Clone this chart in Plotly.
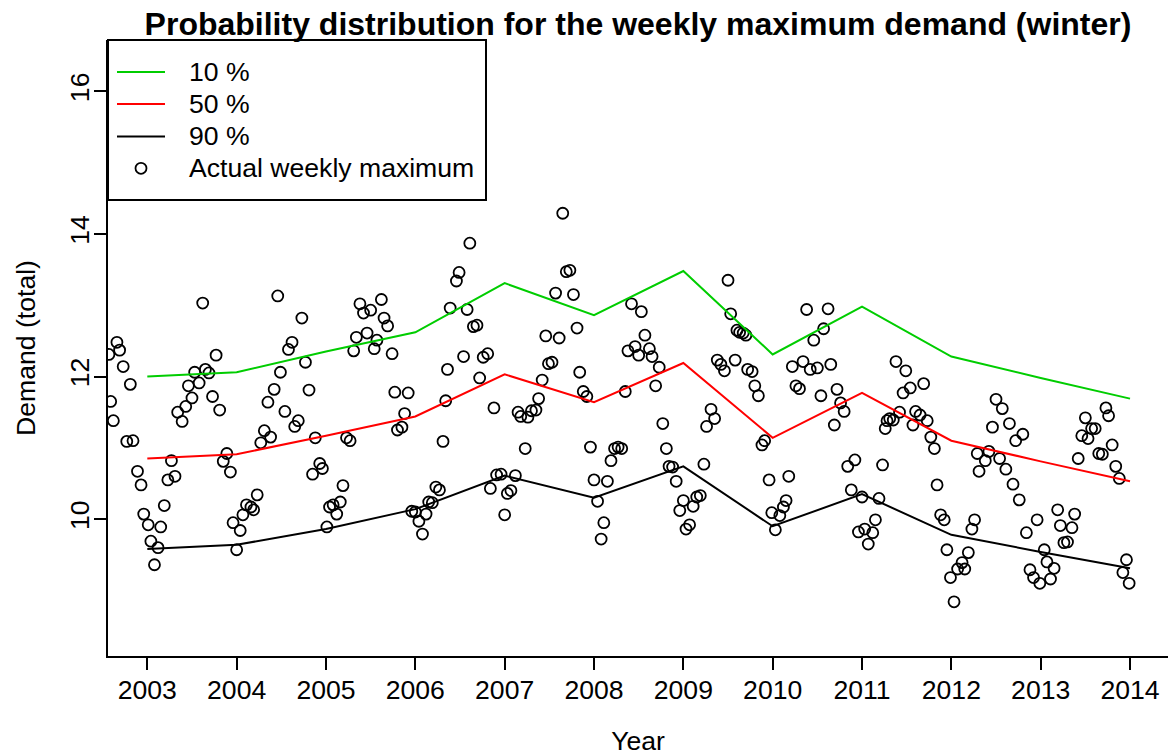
import plotly.graph_objects as go

# Forecast quantiles of the weekly maximum demand, one value per winter
years = list(range(2003, 2015))
q10 = [12.00, 12.06, 12.35, 12.62, 13.31, 12.86, 13.48, 12.31, 12.98, 12.28, 11.98, 11.69]
q50 = [10.85, 10.91, 11.17, 11.44, 12.03, 11.64, 12.19, 11.14, 11.77, 11.10, 10.81, 10.53]
q90 = [9.58, 9.64, 9.86, 10.14, 10.61, 10.30, 10.74, 9.90, 10.35, 9.78, 9.54, 9.31]

# Observed weekly maxima (decimal year, demand)
week_time = [
    2002.57, 2002.66, 2002.69, 2002.73, 2002.81, 2002.59, 2002.62, 2002.77, 2002.84, 2002.89,
    2002.93, 2002.96, 2003.01, 2003.04, 2003.12, 2003.08, 2003.15, 2003.19, 2003.23, 2003.31,
    2003.27, 2003.34, 2003.39, 2003.43, 2003.50, 2003.46, 2003.53, 2003.58, 2003.65, 2003.69,
    2003.62, 2003.77, 2003.73, 2003.81, 2003.89, 2003.85, 2003.93, 2003.96, 2004.04, 2004.00,
    2004.07, 2004.11, 2004.16, 2004.19, 2004.23, 2004.27, 2004.31, 2004.38, 2004.35, 2004.42,
    2004.49, 2004.46, 2004.54, 2004.58, 2004.62, 2004.73, 2004.77, 2004.81, 2004.69, 2004.65,
    2004.88, 2004.93, 2004.96, 2004.85, 2005.19, 2005.16, 2005.08, 2005.04, 2005.12, 2005.01,
    2005.23, 2005.27, 2005.31, 2005.34, 2005.38, 2005.42, 2005.50, 2005.62, 2005.46, 2005.57,
    2005.54, 2005.65, 2005.69, 2005.74, 2005.77, 2005.92, 2005.88, 2005.85, 2005.80, 2005.96,
    2006.00, 2006.04, 2006.08, 2006.12, 2006.15, 2006.19, 2006.23, 2006.27, 2006.31, 2006.34,
    2006.36, 2006.39, 2006.58, 2006.46, 2006.49, 2006.61, 2006.65, 2006.69, 2006.54, 2006.72,
    2006.76, 2006.81, 2006.88, 2006.84, 2006.91, 2006.96, 2007.12, 2007.03, 2007.07, 2007.00,
    2007.23, 2007.15, 2007.18, 2007.26, 2007.30, 2007.35, 2007.38, 2007.42, 2007.49, 2007.53,
    2007.46, 2007.61, 2007.57, 2007.69, 2007.73, 2007.77, 2007.65, 2007.81, 2007.84, 2007.88,
    2007.92, 2007.96, 2008.00, 2008.15, 2008.04, 2008.11, 2008.08, 2008.19, 2008.23, 2008.27,
    2008.31, 2008.35, 2008.42, 2008.53, 2008.57, 2008.38, 2008.46, 2008.50, 2008.62, 2008.65,
    2008.73, 2008.69, 2008.77, 2008.81, 2008.84, 2008.88, 2008.92, 2009.00, 2008.96, 2009.11,
    2009.15, 2009.19, 2009.03, 2009.07, 2009.23, 2009.26, 2009.31, 2009.35, 2009.38, 2009.42,
    2009.46, 2009.50, 2009.53, 2009.58, 2009.60, 2009.63, 2009.67, 2009.70, 2009.72, 2009.77,
    2009.80, 2009.84, 2009.88, 2009.91, 2009.96, 2009.99, 2010.03, 2010.08, 2010.12, 2010.15,
    2010.18, 2010.22, 2010.34, 2010.26, 2010.30, 2010.38, 2010.62, 2010.57, 2010.46, 2010.42,
    2010.50, 2010.65, 2010.54, 2010.72, 2010.76, 2010.80, 2010.69, 2010.84, 2010.92, 2011.23,
    2010.88, 2011.00, 2011.19, 2011.15, 2011.03, 2010.96, 2011.12, 2011.07, 2011.38, 2011.49,
    2011.54, 2011.46, 2011.69, 2011.42, 2011.31, 2011.28, 2011.35, 2011.26, 2011.60, 2011.65,
    2011.73, 2011.57, 2011.77, 2011.81, 2011.84, 2011.88, 2011.92, 2011.95, 2012.19, 2012.12,
    2012.07, 2012.15, 2011.99, 2012.03, 2012.26, 2012.23, 2012.29, 2012.31, 2012.38, 2012.42,
    2012.50, 2012.57, 2012.46, 2012.65, 2012.72, 2012.80, 2012.54, 2012.61, 2012.69, 2012.76,
    2012.96, 2012.84, 2013.19, 2013.22, 2013.35, 2013.38, 2013.26, 2013.30, 2013.04, 2013.07,
    2013.15, 2012.88, 2012.92, 2012.99, 2013.11, 2013.50, 2013.46, 2013.53, 2013.57, 2013.61,
    2013.73, 2013.76, 2013.42, 2013.65, 2013.69, 2013.80, 2013.84, 2013.88, 2013.96, 2013.92,
    2013.99,
]
weekly_max = [
    12.31, 12.48, 12.37, 12.14, 11.89, 11.65, 11.38, 11.09, 11.10, 10.67,
    10.48, 10.07, 9.92, 9.69, 9.60, 9.36, 9.89, 10.19, 10.55, 10.60,
    10.82, 11.50, 11.37, 11.58, 11.70, 11.87, 12.06, 11.91, 12.10, 12.05,
    13.03, 12.30, 11.72, 11.53, 10.92, 10.81, 10.66, 9.95, 9.84, 9.57,
    10.06, 10.20, 10.17, 10.13, 10.34, 11.07, 11.24, 11.15, 11.64, 11.82,
    12.06, 13.13, 11.51, 12.38, 12.48, 12.82, 12.20, 11.81, 11.38, 11.30,
    11.14, 10.78, 10.71, 10.63, 10.47, 10.24, 10.20, 10.17, 10.07, 9.89,
    11.14, 11.10, 12.36, 12.55, 13.02, 12.89, 12.93, 13.08, 12.61, 12.51,
    12.39, 12.82, 12.71, 12.32, 11.78, 11.77, 11.48, 11.29, 11.25, 10.11,
    10.10, 9.97, 9.79, 10.07, 10.24, 10.23, 10.45, 10.41, 11.09, 11.66,
    12.10, 12.96, 12.94, 13.34, 13.46, 13.87, 12.70, 12.72, 12.28, 11.98,
    12.27, 12.32, 11.56, 10.43, 10.62, 10.63, 10.61, 10.36, 10.40, 10.06,
    10.99, 11.50, 11.44, 11.43, 11.52, 11.53, 11.69, 11.95, 12.18, 12.20,
    12.57, 12.54, 13.17, 13.47, 13.49, 13.15, 14.29, 12.68, 12.06, 11.79,
    11.72, 11.01, 10.55, 10.53, 10.25, 9.95, 9.72, 10.82, 10.99, 11.01,
    10.99, 11.79, 13.02, 12.91, 12.58, 12.36, 12.42, 12.30, 12.39, 12.28,
    12.13, 11.87, 11.34, 10.99, 10.74, 10.73, 10.53, 10.26, 10.12, 10.18,
    10.31, 10.33, 9.86, 9.92, 10.77, 11.30, 11.54, 11.41, 12.23, 12.17,
    12.08, 13.35, 12.88, 12.23, 12.65, 12.62, 12.61, 12.58, 12.10, 12.07,
    11.87, 11.73, 11.04, 11.10, 10.55, 10.09, 9.85, 10.05, 10.17, 10.26,
    10.60, 12.14, 12.21, 11.87, 11.83, 12.94, 12.95, 12.67, 12.51, 12.10,
    12.12, 12.17, 11.73, 11.82, 11.63, 11.51, 11.32, 10.74, 10.83, 10.76,
    10.41, 10.31, 10.29, 9.99, 9.86, 9.82, 9.81, 9.65, 12.21, 12.08,
    11.84, 11.77, 11.90, 11.50, 11.41, 11.38, 11.39, 11.27, 11.51, 11.46,
    11.38, 11.32, 11.15, 10.99, 10.48, 10.06, 9.99, 9.57, 9.53, 9.39,
    9.30, 9.30, 9.18, 8.84, 9.99, 9.86, 10.92, 10.67, 10.82, 10.95,
    11.68, 11.55, 11.29, 11.34, 11.10, 11.19, 10.85, 10.70, 10.49, 10.27,
    9.99, 9.81, 10.13, 9.91, 9.88, 10.07, 9.67, 9.68, 9.57, 9.40,
    9.31, 9.29, 9.18, 9.10, 9.16, 11.42, 11.17, 11.13, 11.27, 11.27,
    11.56, 11.45, 10.85, 10.92, 10.91, 11.04, 10.74, 10.57, 9.43, 9.25,
    9.10,
]

x_ticks = years
y_ticks = [10, 12, 14, 16]

legend_items = [
    ("10 %", "line", "#00CD00"),
    ("50 %", "line", "#FF0000"),
    ("90 %", "line", "#000000"),
    ("Actual weekly maximum", "circle", "#000000"),
]

FONT = "Liberation Sans, Arial, Helvetica, sans-serif"
W, H = 1168, 756
ML, MR, MT, MB = 108, 0, 40, 100
PW, PH = W - ML - MR, H - MT - MB

fig = go.Figure()

fig.add_trace(go.Scatter(
    x=week_time, y=weekly_max, mode="markers", name="Actual weekly maximum",
    marker=dict(symbol="circle-open", size=11, color="black", line=dict(width=1.8)),
    showlegend=False, cliponaxis=True,
))

for name, vals, col in [("10 %", q10, "#00CD00"), ("50 %", q50, "#FF0000"), ("90 %", q90, "#000000")]:
    fig.add_trace(go.Scatter(
        x=years, y=vals, mode="lines", name=name,
        line=dict(color=col, width=2), showlegend=False,
    ))

axis_common = dict(
    showline=True, linecolor="black", linewidth=2,
    ticks="outside", ticklen=12, tickwidth=2, tickcolor="black",
    showgrid=False, zeroline=False,
    tickfont=dict(family=FONT, size=26.6, color="black"),
    mirror=False,
)

fig.update_xaxes(
    range=[2002.56, 2014.425], tickvals=x_ticks, ticktext=[str(v) for v in x_ticks],
    ticklabelstandoff=-3,
    title=dict(text="Year", font=dict(family=FONT, size=26.6, color="black"), standoff=30),
    **axis_common,
)
fig.update_yaxes(
    range=[8.08, 16.72], tickvals=y_ticks, ticktext=[str(v) for v in y_ticks], tickangle=-90,
    ticklabelstandoff=-6,
    title=dict(text="Demand (total)", font=dict(family=FONT, size=26.6, color="black"), standoff=22),
    **axis_common,
)

# Legend box in the top-left corner of the plotting region
def px_x(p):
    return (p - ML) / PW

def px_y(p):
    return (H - MB - p) / PH

shapes = [dict(
    type="rect", xref="paper", yref="paper",
    x0=px_x(108), x1=px_x(486), y0=px_y(200), y1=px_y(40),
    line=dict(color="black", width=2), fillcolor="white", layer="above",
)]
annotations = []
row_y = [72, 104, 136.5, 168.3]
for (label, kind, col), ry in zip(legend_items, row_y):
    if kind == "line":
        shapes.append(dict(
            type="line", xref="paper", yref="paper",
            x0=px_x(117), x1=px_x(165), y0=px_y(ry), y1=px_y(ry),
            line=dict(color=col, width=2), layer="above",
        ))
    else:
        shapes.append(dict(
            type="circle", xref="paper", yref="paper",
            xsizemode="pixel", ysizemode="pixel",
            xanchor=px_x(141), yanchor=px_y(ry),
            x0=-5.5, x1=5.5, y0=-5.5, y1=5.5,
            line=dict(color=col, width=1.8), layer="above",
        ))
    annotations.append(dict(
        text=label, xref="paper", yref="paper", x=px_x(187), y=px_y(ry),
        xanchor="left", yanchor="middle", showarrow=False,
        font=dict(family=FONT, size=26.6, color="black"),
    ))

fig.update_layout(
    width=W, height=H,
    margin=dict(l=ML, r=MR, t=MT, b=MB, autoexpand=False),
    paper_bgcolor="white", plot_bgcolor="white",
    title=dict(
        text="<b>Probability distribution for the weekly maximum demand (winter)</b>",
        font=dict(family=FONT, size=32, color="black"),
        x=(638) / W, xanchor="center", y=1 - 24 / H, yanchor="middle",
    ),
    shapes=shapes, annotations=annotations,
    showlegend=False,
)

fig.write_html("out.html")
